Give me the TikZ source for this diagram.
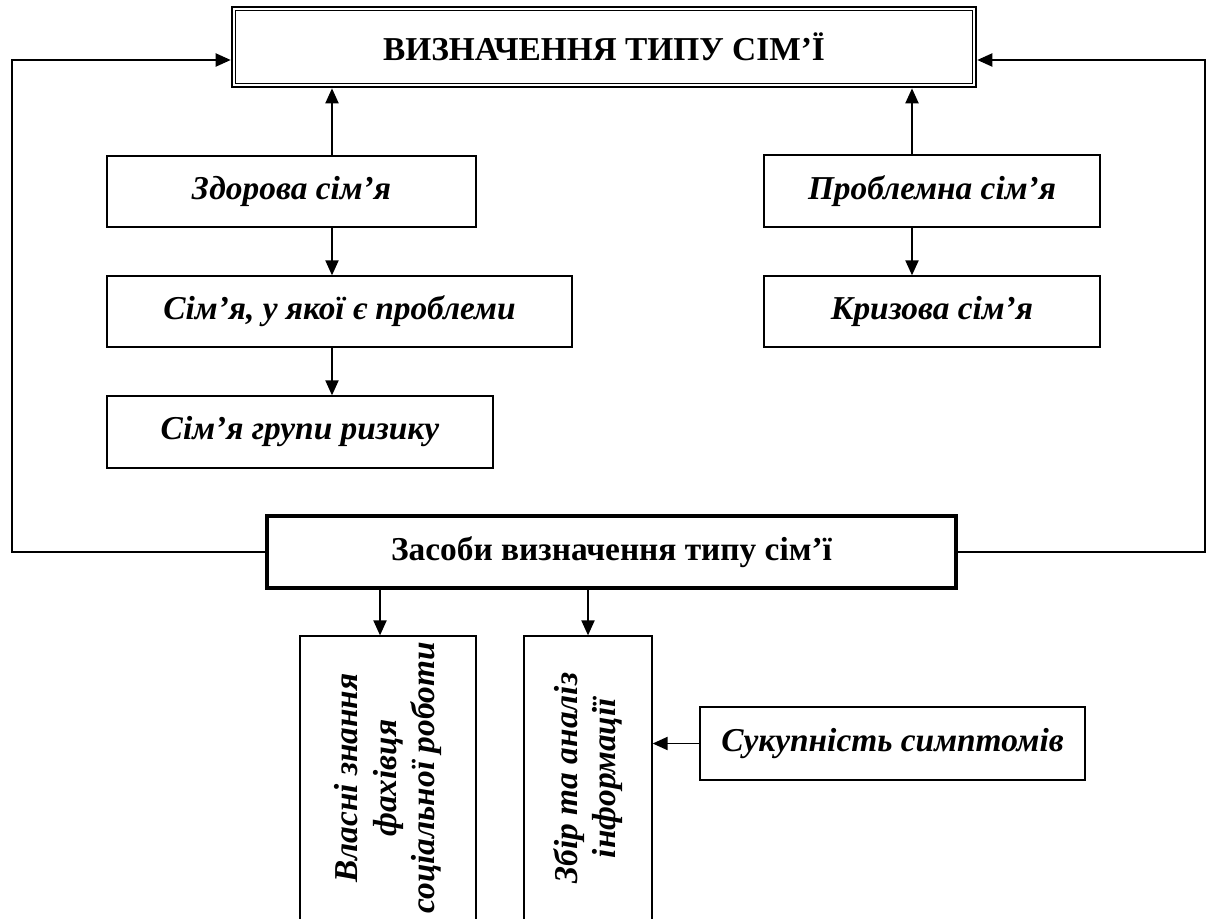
\documentclass[tikz,border=0pt]{standalone}
\usepackage{fontspec}
\setmainfont{Liberation Serif}
\usetikzlibrary{arrows.meta}
\begin{document}
\begin{tikzpicture}[x=0.02cm, y=-0.02cm,
  box/.style={draw, line width=0.8pt, inner sep=0pt, font=\fontsize{19}{22}\selectfont\bfseries\itshape},
  arr/.style={line width=0.8pt, -{Triangle[length=8.5pt,width=7.5pt]}}]
\clip (0,0) rectangle (1207,919);
\node[box, line width=1.6pt, font=\fontsize{19}{22}\selectfont\bfseries, minimum width=14.88cm, minimum height=1.6cm] (title) at (604,47) {ВИЗНАЧЕННЯ ТИПУ СІМ’Ї};
\draw[line width=0.7pt] ([shift={(0.1cm,-0.1cm)}]title.north west) rectangle ([shift={(-0.1cm,0.1cm)}]title.south east);
\node[box, minimum width=7.38cm, minimum height=1.42cm] (zdor) at (291.5,191.5) {Здорова сім’я};
\node[box, minimum width=9.3cm, minimum height=1.42cm] (probl) at (339.5,311.5) {Сім’я, у якої є проблеми};
\node[box, minimum width=7.72cm, minimum height=1.44cm] (ryzyk) at (300,432) {Сім’я групи ризику};
\node[box, minimum width=6.72cm, minimum height=1.44cm] (problem) at (932,191) {Проблемна сім’я};
\node[box, minimum width=6.72cm, minimum height=1.42cm] (kryza) at (932,311.5) {Кризова сім’я};
\node[box, line width=2pt, font=\fontsize{19}{22}\selectfont\bfseries, minimum width=13.78cm, minimum height=1.44cm] (zasoby) at (611.5,552) {Засоби визначення типу сім’ї};
\node[box, rotate=90, align=center, minimum width=5.68cm, minimum height=3.52cm] (vlas) at (388,778) {Власні знання\\фахівця\\соціальної роботи};
\node[box, rotate=90, align=center, minimum width=5.68cm, minimum height=2.56cm] (zbir) at (588,778) {Збір та аналіз\\інформації};
\node[box, minimum width=7.7cm, minimum height=1.46cm] (symp) at (892.5,743.5) {Сукупність симптомів};
\coordinate (lcol) at (332,0);
\coordinate (rcol) at (912,0);
\coordinate (lft) at (12,60);
\coordinate (rgt) at (1205,60);
\draw[arr] (zdor.north -| lcol) -- (title.south -| lcol);
\draw[arr] (zdor.south -| lcol) -- (probl.north -| lcol);
\draw[arr] (probl.south -| lcol) -- (ryzyk.north -| lcol);
\draw[arr] (problem.north -| rcol) -- (title.south -| rcol);
\draw[arr] (problem.south -| rcol) -- (kryza.north -| rcol);
\draw[arr] (zasoby.west) -| (lft) -- (title.west |- lft);
\draw[arr] (zasoby.east) -| (rgt) -- (title.east |- rgt);
\draw[arr] ([xshift=-0.16cm]vlas.east |- zasoby.south) -- ([xshift=-0.16cm]vlas.east);
\draw[arr] (zbir.east |- zasoby.south) -- (zbir.east);
\draw[arr] (symp.west) -- (symp.west -| zbir.south);
\end{tikzpicture}
\end{document}
